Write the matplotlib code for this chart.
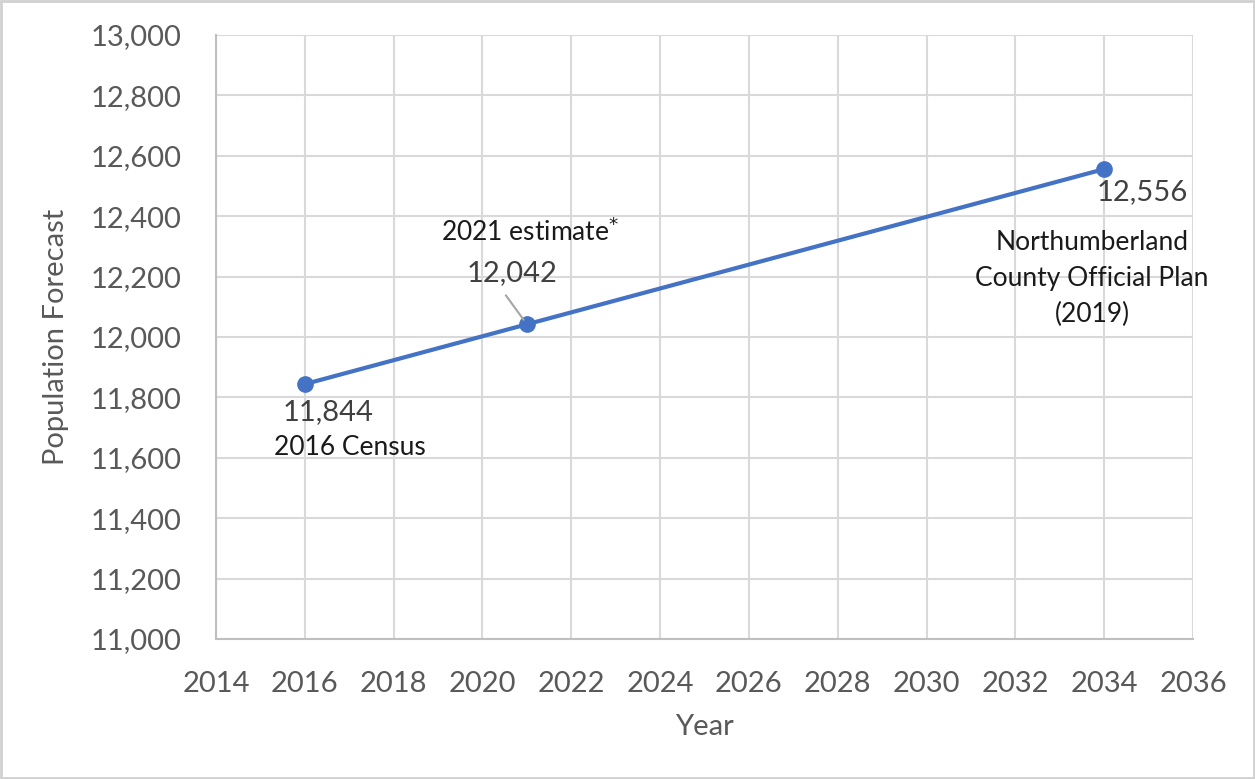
import matplotlib
matplotlib.use("Agg")
import matplotlib.pyplot as plt
from matplotlib.ticker import FuncFormatter, MultipleLocator
from matplotlib.patches import Rectangle

plt.rcParams['font.family'] = ['Lato', 'DejaVu Sans']

# Population forecast points
years = [2016, 2021, 2034]
population = [11844, 12042, 12556]
point_notes = ["2016 Census", "2021 estimate", "Northumberland\nCounty Official Plan\n(2019)"]

x_ticks = list(range(2014, 2037, 2))
y_min, y_max, y_step = 11000, 13000, 200

line_color = "#4472C4"
grid_color = "#D9D9D9"
tick_color = "#595959"
value_color = "#404040"
note_color = "#1A1A1A"

tick_size = 21
value_size = 21
note_size = 19

fig = plt.figure(figsize=(12.55, 7.79), dpi=100)
ax = fig.add_axes([0.1721, 0.1797, 0.7785, 0.7754])

ax.plot(years, population, color=line_color, lw=3, marker="o", ms=11,
        markerfacecolor=line_color, markeredgecolor=line_color, zorder=3,
        solid_capstyle="round")

ax.set_xlim(x_ticks[0], x_ticks[-1])
ax.set_ylim(y_min, y_max)
ax.set_xticks(x_ticks)
ax.yaxis.set_major_locator(MultipleLocator(y_step))
ax.yaxis.set_major_formatter(FuncFormatter(lambda v, _: f"{int(v):,}"))

ax.grid(True, color=grid_color, lw=1.5)
ax.set_axisbelow(True)
for side in ["top", "right"]:
    ax.spines[side].set_visible(False)
for side in ["left", "bottom"]:
    ax.spines[side].set_color("#BFBFBF")
    ax.spines[side].set_linewidth(1.5)
ax.tick_params(axis="both", length=0, labelsize=tick_size, colors=tick_color)
ax.tick_params(axis="y", pad=25)
ax.tick_params(axis="x", pad=23)

ax.set_xlabel("Year", fontsize=tick_size, color=tick_color, labelpad=12)
ax.set_ylabel("Population Forecast", fontsize=tick_size, color=tick_color, labelpad=15)

# 2016 point
ax.annotate(f"{population[0]:,}", xy=(years[0], population[0]), xytext=(23, -28),
            textcoords="offset pixels", ha="center", va="center",
            fontsize=value_size, color=value_color)
ax.annotate(point_notes[0], xy=(years[0], population[0]), xytext=(45, -63),
            textcoords="offset pixels", ha="center", va="center",
            fontsize=note_size, color=note_color)

# 2021 point: value label with a leader line down to the marker
ax.annotate(f"{population[1]:,}", xy=(years[1], population[1]), xytext=(-15, 51),
            textcoords="offset pixels", ha="center", va="center",
            fontsize=value_size, color=value_color)
ax.annotate("", xy=(years[1], population[1]), xytext=(-21, 29),
            textcoords="offset pixels",
            arrowprops=dict(arrowstyle="-", color="#A6A6A6", lw=1.5,
                            shrinkA=0, shrinkB=4))
ax.annotate(point_notes[1] + r"$^{*}$", xy=(years[1], population[1]), xytext=(3, 93),
            textcoords="offset pixels", ha="center", va="center",
            fontsize=note_size, color=note_color)

# 2034 point
ax.annotate(f"{population[2]:,}", xy=(years[2], population[2]), xytext=(38, -23),
            textcoords="offset pixels", ha="center", va="center",
            fontsize=value_size, color=value_color)
ax.annotate(point_notes[2], xy=(years[2], population[2]), xytext=(-12, -109),
            textcoords="offset pixels", ha="center", va="center",
            fontsize=note_size, color=note_color, linespacing=1.55)

# thin frame around the whole chart
fig.patches.append(Rectangle((0.001, 0.001), 0.998, 0.998, transform=fig.transFigure,
                             fill=False, edgecolor="#D0D0D0", lw=2))

fig.savefig("out.png", dpi=100)
